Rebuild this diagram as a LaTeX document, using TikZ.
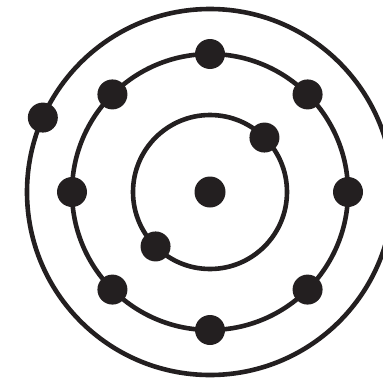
\documentclass[tikz,border=0pt]{standalone}
\usetikzlibrary{calc}
\definecolor{ink}{HTML}{231F20}
\begin{document}
\begin{tikzpicture}[x=1pt,y=-1pt,
  orbit/.style={draw=ink,line width=4.6pt},
  electron/.style={circle,fill=ink,inner sep=0pt,minimum size=30pt},
  nucleus/.style={circle,fill=ink,inner sep=0pt,minimum size=31pt}]
\useasboundingbox (0,0) rectangle (383,383);
\begin{scope}
\clip (0,0) rectangle (383,383);
\coordinate (c) at (210,192);
\draw[orbit] (c) circle[radius=77];
\draw[orbit] (c) circle[radius=138];
\draw[orbit] (c) circle[radius=183];
\node[nucleus] (n) at (c) {};
\node[electron] (i1) at ($(c)+(-45:77)$) {};
\node[electron] (i2) at ($(c)+(135:77)$) {};
\foreach \a [count=\k] in {0,45,...,315}
  \node[electron] (m\k) at ($(c)+(\a:138)$) {};
\node[electron] (o1) at ($(c)+(-156:183)$) {};
\end{scope}
\end{tikzpicture}
\end{document}
